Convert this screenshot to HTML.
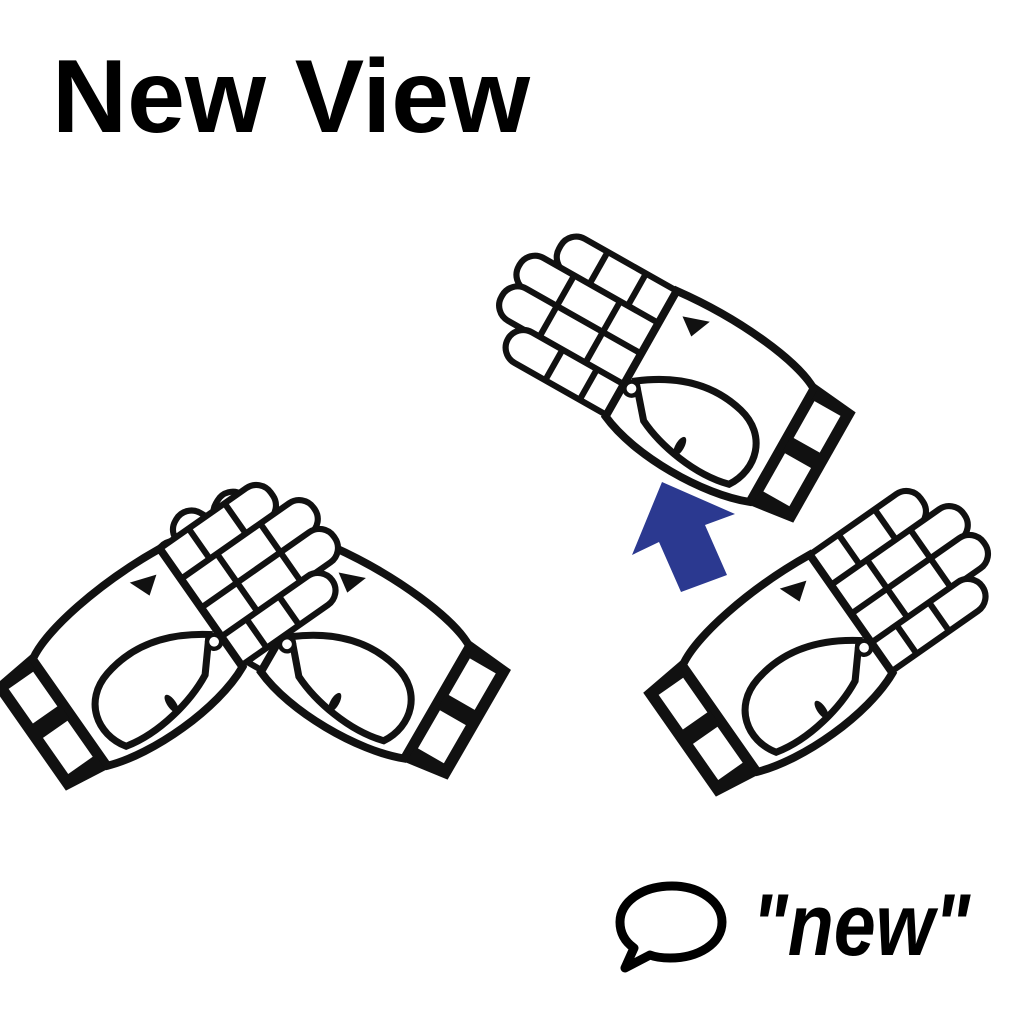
<!DOCTYPE html>
<html><head><meta charset="utf-8"><style>
html,body{margin:0;padding:0;background:#fff;}
svg{display:block;}
</style></head><body>
<svg width="1024" height="1024" viewBox="0 0 1024 1024">
<defs>
<g id="hand">
  <path d="M-15,-78 L45,-72 L45,72 L-15,80 Z" fill="#111"/>
  <rect x="-2" y="-60" width="34" height="48" fill="#fff"/>
  <rect x="-2" y="8" width="34" height="50" fill="#fff"/>
  <g fill="#fff" stroke="#111" stroke-width="7">
    <rect x="-340" y="-92" width="170" height="44" rx="20"/>
    <rect x="-370" y="-50" width="200" height="42" rx="20"/>
    <rect x="-370" y="-10" width="200" height="42" rx="20"/>
    <rect x="-340" y="30" width="170" height="40" rx="20"/>
  </g>
  <g stroke="#111" stroke-width="7">
    <line x1="-290" y1="-92" x2="-290" y2="-48"/><line x1="-240" y1="-92" x2="-240" y2="-48"/>
    <line x1="-310" y1="-50" x2="-310" y2="-8"/><line x1="-250" y1="-50" x2="-250" y2="-8"/>
    <line x1="-310" y1="-10" x2="-310" y2="32"/><line x1="-250" y1="-10" x2="-250" y2="32"/>
    <line x1="-280" y1="30" x2="-280" y2="70"/><line x1="-235" y1="30" x2="-235" y2="70"/>
  </g>
  <path d="M-200,-92 C-120,-100 -40,-90 -10,-72 L-10,76 C-60,95 -150,95 -200,72 Z" fill="#fff" stroke="#111" stroke-width="9"/>
  <path d="M-190,20 C-150,-10 -110,-20 -70,-10 C-30,0 -20,40 -40,70 C-80,80 -130,70 -160,55 Z" fill="none" stroke="#111" stroke-width="8"/>
  <path d="M-180,-70 L-150,-80 L-160,-55 Z" fill="#111"/>
  <circle cx="-190" cy="30" r="8" fill="#fff" stroke="#111" stroke-width="5"/>
  <ellipse cx="-110" cy="60" rx="5" ry="12" fill="#111"/>
</g>
</defs>

<text x="52" y="132" font-family="Liberation Sans, sans-serif" font-weight="bold" font-size="104" textLength="478" lengthAdjust="spacingAndGlyphs" fill="#000">New View</text>

<g><use href="#hand" transform="translate(790,448) rotate(29.5) scale(0.88)"/></g>
<g><use href="#hand" transform="translate(445,705) rotate(30) scale(0.88)"/></g>
<g><use href="#hand" transform="translate(62,716) rotate(-35) scale(-0.88,0.88)"/></g>
<g><use href="#hand" transform="translate(712,722) rotate(-35) scale(-0.88,0.88)"/></g>

<polygon points="632,555 662,482 735,514 705,525 727,575 681,592 659,542" fill="#2b3990"/>

<g>
  <path d="M672,886 C700,886 722,902 722,922 C722,944 698,958 670,958 C662,958 655,957 650,955 L625,968 L634,948 C624,941 620,932 620,922 C620,902 642,886 672,886 Z" fill="none" stroke="#000" stroke-width="9" stroke-linejoin="round"/>
</g>
<text x="752" y="955" font-family="Liberation Sans, sans-serif" font-weight="bold" font-style="italic" font-size="88" textLength="218" lengthAdjust="spacingAndGlyphs" fill="#000">"new"</text>
</svg>
</body></html>
